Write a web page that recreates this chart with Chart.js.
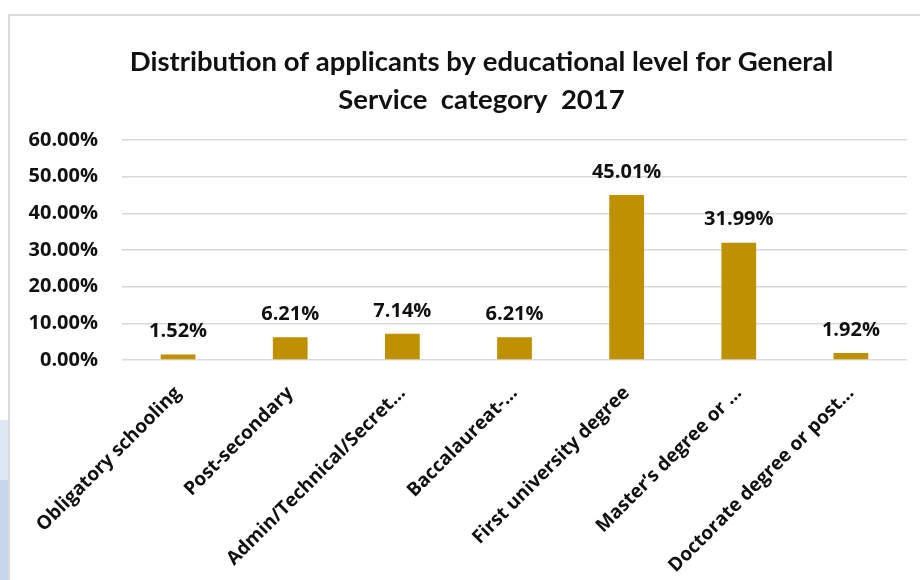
<!DOCTYPE html>
<html>
<head>
<meta charset="utf-8">
<script src="https://cdn.jsdelivr.net/npm/chart.js@4"></script>
<style>
  html, body { margin: 0; padding: 0; background: #fff; }
  #wrap { position: relative; width: 920px; height: 580px; overflow: hidden; }
  /* slide backdrop peeking out on the left */
  #deco1 { position: absolute; left: 0; top: 420px; width: 9px; height: 160px; background: #dde8f4; }
  #deco2 { position: absolute; left: 0; top: 480px; width: 9px; height: 100px; background: #c7d6ea; }
  #frame { position: absolute; left: 8px; top: 14px; width: 930px; height: 600px; border: 2px solid #dadada; background: #fff; }
  #holder { position: absolute; left: 0; top: 0; width: 920px; height: 580px; }
</style>
</head>
<body>
<div id="wrap">
  <div id="deco1"></div>
  <div id="deco2"></div>
  <div id="frame"></div>
  <div id="holder"><canvas id="eduChart"></canvas></div>
</div>
<script>
const categories = [
  'Obligatory schooling',
  'Post-secondary',
  'Admin/Technical/Secret\u2026',
  'Baccalaureat-\u2026',
  'First university degree',
  'Master\u2019s degree or \u2026',
  'Doctorate degree or post\u2026'
];
const applicantShare = [1.52, 6.21, 7.14, 6.21, 45.01, 31.99, 1.92];
const yTicks = [0, 10, 20, 30, 40, 50, 60];

const labelFont = { family: '"Open Sans", sans-serif', size: 20, weight: 'bold' };

// value labels above each bar
const barValues = {
  id: 'barValues',
  afterDatasetsDraw(chart) {
    const ctx = chart.ctx;
    const meta = chart.getDatasetMeta(0);
    ctx.save();
    ctx.font = 'bold 20px "Open Sans", sans-serif';
    ctx.fillStyle = '#111';
    ctx.textAlign = 'center';
    ctx.textBaseline = 'middle';
    meta.data.forEach((bar, i) => {
      ctx.fillText(applicantShare[i].toFixed(2) + '%', bar.x, bar.y - 23);
    });
    ctx.restore();
  }
};

// title sits a little right of the canvas centre
const titleShift = {
  id: 'titleShift',
  afterLayout(chart) {
    if (chart.titleBlock) chart.titleBlock.left = 56;
  }
};

const ctx = document.getElementById('eduChart').getContext('2d');
const eduChart = new Chart(ctx, {
  type: 'bar',
  data: {
    labels: categories,
    datasets: [{
      label: 'Applicants',
      data: applicantShare,
      backgroundColor: '#BF9000',
      borderWidth: 0,
      barPercentage: 0.31,
      categoryPercentage: 1.0
    }]
  },
  options: {
    responsive: true,
    maintainAspectRatio: false,
    animation: false,
    layout: { padding: { top: 0, right: 13, bottom: 0, left: 0 } },
    plugins: {
      legend: { display: false },
      tooltip: { enabled: false },
      title: {
        display: true,
        text: ['Distribution of applicants by educational level for General', 'Service  category  2017'],
        color: '#111',
        font: { family: 'Lato, sans-serif', size: 27.5, weight: 'bold', lineHeight: 1.38 },
        padding: { top: 43, bottom: 21 }
      }
    },
    scales: {
      x: {
        grid: { display: false },
        border: { display: false },
        afterFit(scale) {
          scale.height = 220;
        },
        ticks: {
          color: '#111',
          font: { family: '"Open Sans", sans-serif', size: 19, weight: 'bold' },
          minRotation: 45,
          maxRotation: 45,
          autoSkip: false,
          padding: 14
        }
      },
      y: {
        min: 0,
        max: 60,
        afterBuildTicks(scale) {
          scale.ticks = yTicks.map(v => ({ value: v }));
        },
        afterFit(scale) {
          scale.width = 122;
        },
        grid: { color: '#d9d9d9', lineWidth: 1.5, drawTicks: false },
        border: { display: false },
        ticks: {
          color: '#111',
          font: labelFont,
          padding: 24,
          callback: v => v.toFixed(2) + '%'
        }
      }
    }
  },
  plugins: [barValues, titleShift]
});
</script>
</body>
</html>
